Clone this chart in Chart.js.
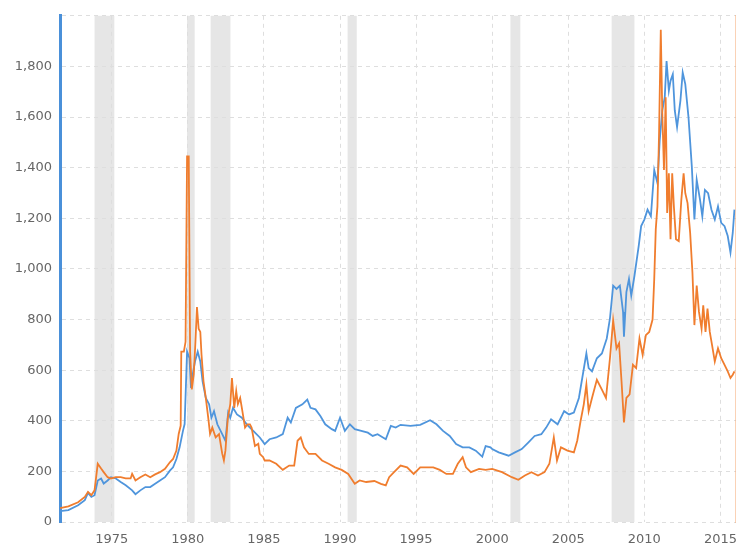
<!DOCTYPE html>
<html>
<head>
<meta charset="utf-8">
<script src="https://cdn.jsdelivr.net/npm/chart.js@4"></script>
<style>
  html, body { margin: 0; padding: 0; background: #fff; }
  canvas { display: block; }
</style>
</head>
<body>
<canvas id="chart" width="747" height="548"></canvas>
<script>
// orange series
const silverYears = [1971.61,1972.15,1972.79,1973.23,1973.44,1973.66,1973.87,1974.08,1974.30,1974.47,1974.73,1974.95,
  1975.27,1975.59,1975.92,1976.24,1976.34,1976.56,1976.88,1977.21,1977.53,1977.85,1978.17,1978.50,1978.82,1979.03,
  1979.25,1979.40,1979.53,1979.57,1979.74,1979.85,1979.95,1980.06,1980.15,1980.26,1980.39,1980.50,1980.60,1980.71,
  1980.82,1980.90,1981.03,1981.18,1981.34,1981.46,1981.61,1981.83,1982.05,1982.26,1982.37,1982.47,1982.63,1982.79,
  1982.90,1983.05,1983.18,1983.29,1983.44,1983.55,1983.76,1983.92,1984.08,1984.19,1984.41,1984.63,1984.73,1984.95,
  1985.05,1985.37,1985.81,1986.24,1986.66,1986.99,1987.21,1987.42,1987.63,1987.95,1988.39,1988.82,1989.25,1989.68,
  1990.11,1990.54,1990.97,1991.29,1991.72,1992.26,1992.69,1993.01,1993.23,1993.55,1993.98,1994.41,1994.84,1995.27,
  1995.70,1996.13,1996.56,1996.99,1997.42,1997.74,1998.06,1998.28,1998.60,1999.14,1999.57,2000.00,2000.65,2001.29,
  2001.72,2002.15,2002.58,2003.01,2003.44,2003.76,2004.05,2004.26,2004.52,2004.95,2005.37,2005.59,2005.81,2006.02,
  2006.19,2006.34,2006.56,2006.88,2007.21,2007.48,2007.74,2007.95,2008.17,2008.34,2008.50,2008.66,2008.82,2009.03,
  2009.25,2009.46,2009.68,2009.89,2010.10,2010.32,2010.54,2010.65,2010.75,2010.86,2010.97,2011.08,2011.18,2011.29,
  2011.40,2011.50,2011.61,2011.72,2011.83,2011.94,2012.08,2012.26,2012.43,2012.58,2012.69,2012.84,2013.01,2013.16,
  2013.29,2013.44,2013.59,2013.76,2013.87,2014.02,2014.15,2014.30,2014.45,2014.63,2014.84,2015.05,2015.27,2015.48,
  2015.66,2015.81,2015.92];
const silverValues = [55,62,78,99,119,106,125,230,211,197,177,172,
  177,177,172,172,190,164,177,188,177,188,197,210,236,249,
  282,348,380,673,673,712,1444,1444,673,524,583,712,849,764,
  751,661,556,490,412,348,373,334,347,270,243,282,412,466,
  569,451,517,466,490,451,373,386,386,373,300,309,269,256,
  243,243,230,206,223,223,321,334,295,269,269,243,230,216,
  206,190,151,164,158,162,151,145,177,197,223,216,190,216,
  216,216,206,190,190,230,256,216,197,210,206,210,197,177,
  167,184,197,184,197,230,334,243,295,282,275,321,399,465,
  543,438,490,562,523,490,647,797,686,706,556,393,490,504,
  621,608,725,660,738,751,800,960,1156,1247,1547,1945,1613,1391,
  1678,1221,1378,1117,1378,1247,1117,1110,1273,1378,1299,1260,1143,986,
  778,934,830,764,856,751,843,751,699,634,686,647,621,595,
  569,582,595];

// blue series
const goldYears = [1971.61,1972.15,1972.79,1973.23,1973.44,1973.66,1973.87,1974.08,1974.30,1974.47,1974.73,1974.95,
  1975.27,1975.59,1975.92,1976.34,1976.56,1976.88,1977.21,1977.53,1977.85,1978.17,1978.50,1978.82,1979.03,1979.25,
  1979.46,1979.68,1979.79,1979.95,1980.11,1980.21,1980.32,1980.47,1980.65,1980.82,1980.97,1981.18,1981.40,1981.55,
  1981.72,1981.94,1982.26,1982.47,1982.65,1982.79,1982.97,1983.23,1983.55,1983.87,1984.30,1984.73,1985.05,1985.37,
  1985.81,1986.24,1986.56,1986.77,1987.10,1987.53,1987.85,1988.06,1988.39,1988.71,1989.03,1989.46,1989.68,1990.00,
  1990.32,1990.65,1990.97,1991.40,1991.83,1992.15,1992.47,1993.01,1993.34,1993.66,1993.98,1994.63,1995.27,1995.92,
  1996.34,1996.77,1997.21,1997.63,1998.06,1998.50,1998.92,1999.35,1999.57,1999.89,2000.00,2000.43,2001.08,2001.50,
  2001.94,2002.37,2002.79,2003.23,2003.55,2003.87,2004.30,2004.73,2005.05,2005.37,2005.70,2005.92,2006.19,2006.34,
  2006.56,2006.88,2007.21,2007.53,2007.74,2007.95,2008.17,2008.39,2008.60,2008.66,2008.82,2008.99,2009.14,2009.35,
  2009.63,2009.79,2010.00,2010.21,2010.43,2010.65,2010.86,2011.01,2011.18,2011.34,2011.46,2011.61,2011.72,2011.87,
  2012.00,2012.15,2012.37,2012.52,2012.69,2012.90,2013.12,2013.29,2013.44,2013.66,2013.81,2013.98,2014.19,2014.41,
  2014.63,2014.84,2015.05,2015.27,2015.48,2015.66,2015.81,2015.92];
const goldValues = [43,47,66,86,115,99,106,164,172,152,164,177,
  172,158,145,125,110,125,138,138,151,164,177,203,216,249,
  295,360,387,673,647,530,583,634,673,634,556,490,465,412,
  438,386,347,321,432,412,451,425,412,386,360,334,308,327,
  334,347,412,393,451,465,484,451,445,419,386,367,360,412,
  360,386,367,360,353,340,347,327,380,373,384,380,384,402,
  386,360,340,308,295,295,282,258,300,295,288,275,262,275,
  288,314,340,347,373,406,386,438,425,432,490,569,666,608,
  595,647,666,725,804,934,921,934,830,732,908,960,895,973,
  1091,1169,1195,1234,1208,1391,1339,1508,1626,1678,1821,1704,1743,1769,
  1626,1560,1665,1776,1730,1600,1404,1195,1352,1273,1208,1312,1299,1234,
  1195,1247,1182,1169,1130,1065,1143,1234];

// shaded bands
const recessionStarts = [1973.87, 1979.95, 1981.5, 1990.5, 2001.2, 2007.85];
const recessionEnds   = [1975.17, 1980.45, 1982.8, 1991.1, 2001.85, 2009.35];

const xTickYears = [1975, 1980, 1985, 1990, 1995, 2000, 2005, 2010, 2015];

const toPoints = (xs, ys) => xs.map((x, i) => ({ x: x, y: ys[i] }));

const bandsPlugin = {
  id: 'bands',
  beforeDraw(chart) {
    const { ctx, chartArea, scales } = chart;
    ctx.save();
    ctx.fillStyle = '#e6e6e6';
    recessionStarts.forEach((s, i) => {
      const x0 = scales.x.getPixelForValue(s);
      const x1 = scales.x.getPixelForValue(recessionEnds[i]);
      ctx.fillRect(x0, chartArea.top, x1 - x0, chartArea.bottom - chartArea.top);
    });
    ctx.restore();
  }
};

new Chart(document.getElementById('chart'), {
  type: 'line',
  data: {
    datasets: [
      {
        data: toPoints(silverYears, silverValues),
        borderColor: '#f07d2e',
        borderWidth: 1.8,
        pointRadius: 0,
        tension: 0
      },
      {
        data: toPoints(goldYears, goldValues),
        borderColor: '#4f95dc',
        borderWidth: 1.8,
        pointRadius: 0,
        tension: 0
      }
    ]
  },
  options: {
    responsive: false,
    animation: false,
    layout: { padding: { top: 10, right: 1, left: 0, bottom: 0 } },
    plugins: { legend: { display: false }, tooltip: { enabled: false } },
    scales: {
      x: {
        type: 'linear',
        min: 1971.6,
        max: 2016.0,
        afterBuildTicks: (scale) => { scale.ticks = xTickYears.map(v => ({ value: v })); },
        afterFit: (scale) => { scale.height = 26; },
        ticks: {
          callback: (v) => String(v),
          color: '#666',
          font: { family: 'DejaVu Sans', size: 13 },
          padding: 10,
          maxRotation: 0
        },
        grid: { color: '#dedede', drawTicks: false, lineWidth: 1 },
        border: { display: false, dash: [4, 4] }
      },
      y: {
        min: 0,
        max: 2000,
        afterFit: (scale) => { scale.width = 60; },
        ticks: {
          stepSize: 200,
          callback: (v) => v >= 2000 ? '' : v.toLocaleString('en-US'),
          color: '#666',
          font: { family: 'DejaVu Sans', size: 13 },
          padding: 8
        },
        grid: { color: '#dedede', drawTicks: false, lineWidth: 1 },
        border: { display: true, color: '#4a90d9', width: 3, dash: [4, 4] }
      },
      y2: {
        position: 'right',
        min: 0,
        max: 2000,
        afterFit: (scale) => { scale.width = 0; },
        ticks: { display: false },
        grid: { display: false, drawTicks: false },
        border: { display: true, color: 'rgba(240,125,46,0.35)', width: 1 }
      }
    }
  },
  plugins: [bandsPlugin]
});
</script>
</body>
</html>
